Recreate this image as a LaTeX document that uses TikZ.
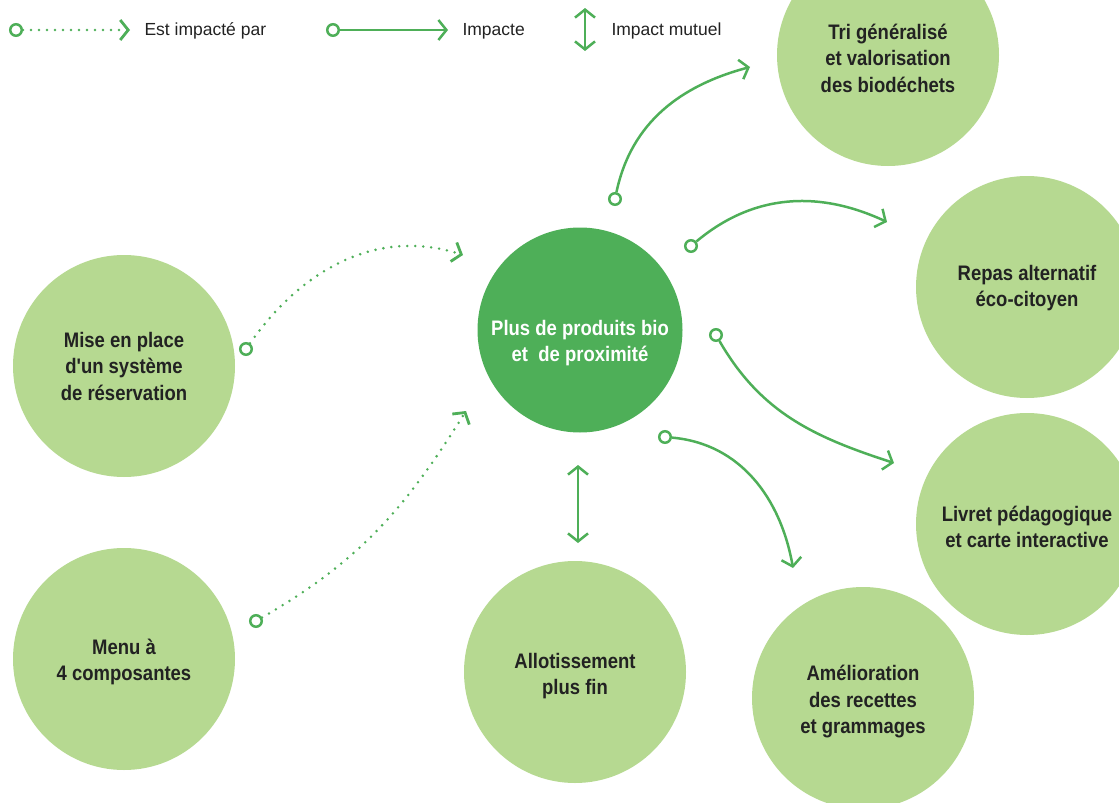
\documentclass[tikz,border=0pt]{standalone}
\usepackage{fontspec}
\setmainfont{Liberation Sans}
\newfontfamily\circfont[FakeStretch=0.88]{Liberation Sans Bold}
\usetikzlibrary{arrows.meta}
\definecolor{dkgreen}{RGB}{78,175,88}
\definecolor{ltgreen}{RGB}{182,217,145}
\definecolor{txtgray}{RGB}{34,34,34}

\begin{document}
\begin{tikzpicture}[x=1pt, y=-1pt,
    bubble/.style={circle, fill=ltgreen, minimum size=222pt, inner sep=0pt},
    ctext/.style={align=center, text=txtgray, font=\circfont\fontsize{21}{26.5}\selectfont},
    startdot/.style={circle, draw=dkgreen, line width=2.5pt, fill=white, minimum size=11.5pt, inner sep=0pt},
    link/.style={draw=dkgreen, line width=2.5pt, -{Straight Barb[length=8pt, width=20pt]}},
    mutual/.style={draw=dkgreen, line width=2.5pt, {Straight Barb[length=8pt, width=20pt]}-{Straight Barb[length=8pt, width=20pt]}},
    dotlink/.style={link, line cap=round, line width=2.8pt, dash pattern=on 0pt off 8pt},
    legend/.style={anchor=west, text=txtgray, font=\fontsize{17.5}{20}\selectfont}]
    \useasboundingbox (0,0) rectangle (1119,803);

    % circles
    \node (bio) at (580,330) [bubble, fill=dkgreen, minimum size=205pt] {};
    \node (resa) at (124,366) [bubble] {};
    \node (menu) at (124,659) [bubble] {};
    \node (allot) at (575,672) [bubble] {};
    \node (amelio) at (863,698) [bubble] {};
    \node (livret) at (1027,524) [bubble] {};
    \node (repas) at (1027,287) [bubble] {};
    \node (tri) at (888,55) [bubble] {};

    % circle texts
    \node (bio-t) at ([yshift=-13pt]bio.center) [ctext, text=white] {Plus de produits bio\\et\ \ de proximit\'e};
    \node (resa-t) at (resa) [ctext] {Mise en place\\d'un syst\`eme\\de r\'eservation};
    \node (menu-t) at ([yshift=-3pt]menu.center) [ctext] {Menu \`a\\4 composantes};
    \node (allot-t) at ([yshift=-4pt]allot.center) [ctext] {Allotissement\\plus fin};
    \node (amelio-t) at ([yshift=-4pt]amelio.center) [ctext] {Am\'elioration\\des recettes\\et grammages};
    \node (livret-t) at ([yshift=-3pt]livret.center) [ctext] {Livret p\'edagogique\\et carte interactive};
    \node (repas-t) at ([yshift=-1pt]repas.center) [ctext] {Repas alternatif\\\'eco-citoyen};
    \node (tri-t) at ([yshift=-3pt]tri.center) [ctext] {Tri g\'en\'eralis\'e\\et valorisation\\des biod\'echets};

    % legend
    \node (ld1) at (16,30) [startdot] {};
    \coordinate (le1) at (130,30);
    \draw [dotlink] (ld1) -- (le1);
    \node (lt1) at (141,31) [legend] {Est impact\'e par};
    \node (ld2) at (333,30) [startdot] {};
    \coordinate (le2) at (448,30);
    \draw [link] (ld2) -- (le2);
    \node (lt2) at (459,31) [legend] {Impacte};
    \coordinate (lm1) at (585,8);
    \coordinate (lm2) at (585,51);
    \draw [mutual] (lm1) -- (lm2);
    \node (lt3) at (608,31) [legend] {Impact mutuel};

    % impacted by
    \node (d1) at (246,349) [startdot] {};
    \coordinate (e1) at (463,255);
    \draw [dotlink] (d1) to[out=55, in=162] (e1);
    \node (d2) at (256,621) [startdot] {};
    \coordinate (e2) at (466,411);
    \draw [dotlink] (d2) to[out=30, in=238] (e2);

    % impacts
    \node (d3) at (615,199) [startdot] {};
    \coordinate (e3) at (750,67);
    \draw [link] (d3) to[out=78, in=195] (e3);
    \node (d4) at (691,246) [startdot] {};
    \coordinate (e4) at (887,222);
    \draw [link] (d4) to[out=40, in=155] (e4);
    \node (d5) at (716,335) [startdot] {};
    \coordinate (e5) at (894,463);
    \draw [link] (d5) to[out=-60, in=162] (e5);
    \node (d6) at (665,437) [startdot] {};
    \coordinate (e6) at (793,568);
    \draw [link] (d6) to[out=-5, in=100] (e6);

    % mutual
    \coordinate (m1) at (578,465);
    \coordinate (m2) at (578,543);
    \draw [mutual] (m1) -- (m2);

\end{tikzpicture}
\end{document}
